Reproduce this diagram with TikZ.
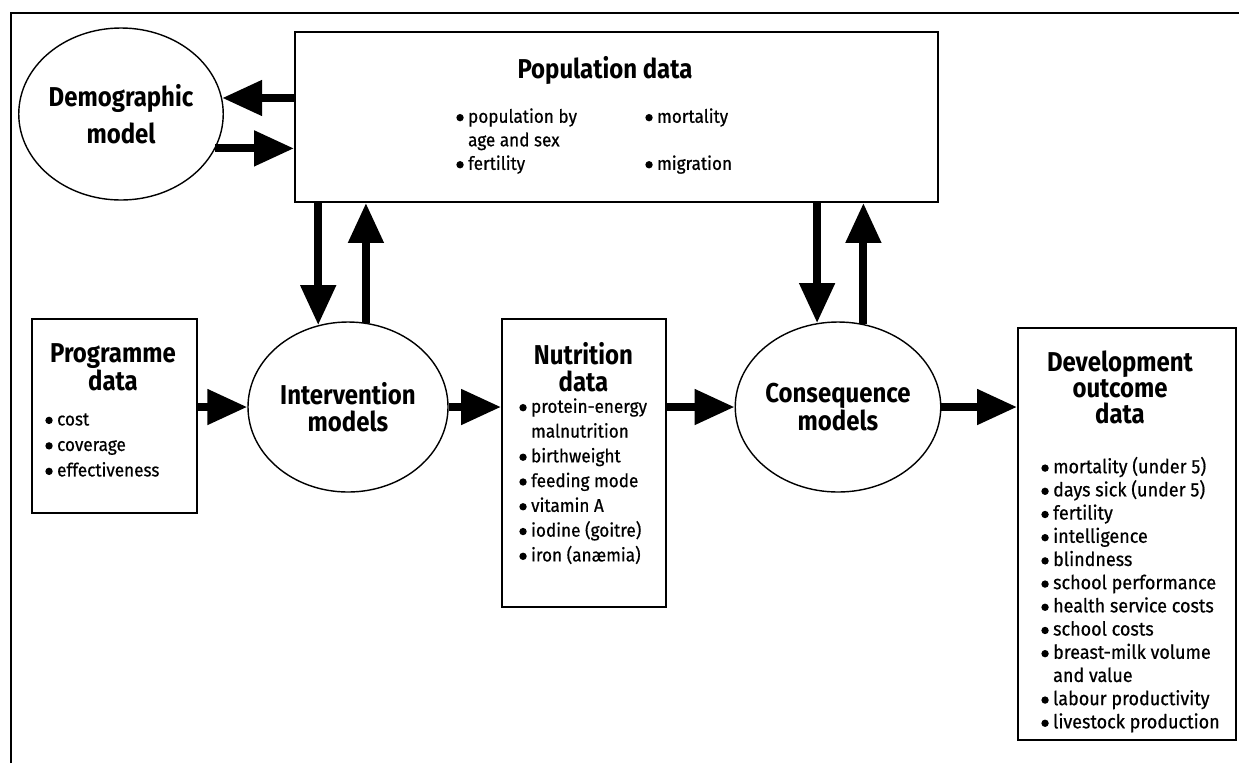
\documentclass[tikz,border=0pt]{standalone}
\usepackage{fontspec}
\setmainfont{Fira Sans}[FakeStretch=0.88]
\newfontfamily\itemfont{Fira Sans}[FakeStretch=0.93,FakeBold=0.6]
\usetikzlibrary{arrows.meta,shapes.geometric,positioning}
\newcommand{\bulmark}{\tikz[baseline=-2.9pt]\fill (0,0) circle (2.1pt);\hspace{2.5pt}}
\newcommand{\itembul}{\bulmark}
\newcommand{\itemgap}{\leavevmode\hphantom{\bulmark}}

\begin{document}
\begin{tikzpicture}[
        box/.style={draw, line width=1.1pt, rectangle, inner sep=0pt},
        oval/.style={draw, line width=0.8pt, ellipse, inner sep=0pt, minimum width=4cm, minimum height=3.4cm, align=center, font=\fontsize{15.5}{15.2}\selectfont\bfseries},
        title/.style={anchor=north, inner sep=0pt, align=center, font=\fontsize{15.5}{15.2}\selectfont\bfseries},
        items/.style={anchor=north west, inner sep=0pt, align=left, font=\itemfont\fontsize{10.5}{13.6}\selectfont},
        fat/.style={line width=4.5pt, -{Triangle[length=0.8cm,width=0.68cm]}}]
        \useasboundingbox (0,0) rectangle (24.78,-15.26);
        \draw [line width=1.6pt] (0.22,-15.26) -- (0.22,-0.26) -- (24.78,-0.26);

        \node [oval, minimum width=4.04cm, minimum height=3.44cm, font=\fontsize{15.5}{21}\selectfont\bfseries] (demo) at (2.42,-2.28) {Demographic\\model};

        \node [box, minimum width=12.86cm, minimum height=3.4cm] (pop) at (12.33,-2.34) {};
        \node [title] (poptitle) at (12.1,-1.12) {Population data};
        \node [items, font=\itemfont\fontsize{10.5}{13.4}\selectfont] (poplist) at (9.12,-2.16) {\itembul population by\\\itemgap age and sex\\\itembul fertility};
        \node [items, font=\itemfont\fontsize{10.5}{13.4}\selectfont] (poplist2) at (12.9,-2.16) {\itembul mortality\\[13.4pt]\itembul migration};

        \node [oval] (interv) at (6.96,-8.14) {Intervention\\models};
        \node [oval] (conseq) at (16.76,-8.14) {Consequence\\models};

        \node [box, minimum width=3.3cm, minimum height=3.88cm] (prog) at (2.29,-8.32) {};
        \node [title] (progtitle) at (2.26,-6.86) {Programme\\data};
        \node [items, font=\itemfont\fontsize{10.5}{14.5}\selectfont] (proglist) at (0.9,-8.26) {\itembul cost\\\itembul coverage\\\itembul effectiveness};

        \node [box, minimum width=3.28cm, minimum height=5.76cm] (nutr) at (11.68,-9.26) {};
        \node [title] (nutrtitle) at (11.67,-6.84) {Nutrition\\data};
        \node [items, font=\itemfont\fontsize{10.5}{14.1}\selectfont] (nutrlist) at (10.38,-7.96) {\itembul protein-energy\\\itemgap malnutrition\\\itembul birthweight\\\itembul feeding mode\\\itembul vitamin A\\\itembul iodine (goitre)\\\itembul iron (an\ae mia)};

        \node [box, minimum width=4.36cm, minimum height=8.24cm] (dev) at (22.54,-10.68) {};
        \node [title, font=\fontsize{15.5}{14.8}\selectfont\bfseries] (devtitle) at (22.4,-7.0) {Development\\outcome\\data};
        \node [items, font=\itemfont\fontsize{11}{13.2}\selectfont] (devlist) at (20.82,-9.13) {\itembul mortality (under 5)\\\itembul days sick (under 5)\\\itembul fertility\\\itembul intelligence\\\itembul blindness\\\itembul school performance\\\itembul health service costs\\\itembul school costs\\\itembul breast-milk volume\\\itemgap and value\\\itembul labour productivity\\\itembul livestock production};

        \draw [fat] (demo.9 -| pop.west) to (demo.9);
        \draw [fat] (demo.-20) to (demo.-20 -| pop.west);
        \draw [fat] (interv.110 |- pop.south) to (interv.110);
        \draw [fat] (interv.78) to (interv.78 |- pop.south);
        \draw [fat] (conseq.104 |- pop.south) to (conseq.104);
        \draw [fat] (conseq.73) to (conseq.73 |- pop.south);
        \draw [fat] (interv.west -| prog.east) to (interv.west);
        \draw [fat] (interv.east) to (interv.east -| nutr.west);
        \draw [fat] (conseq.west -| nutr.east) to (conseq.west);
        \draw [fat] (conseq.east) to (conseq.east -| dev.west);
    \end{tikzpicture}
\end{document}
